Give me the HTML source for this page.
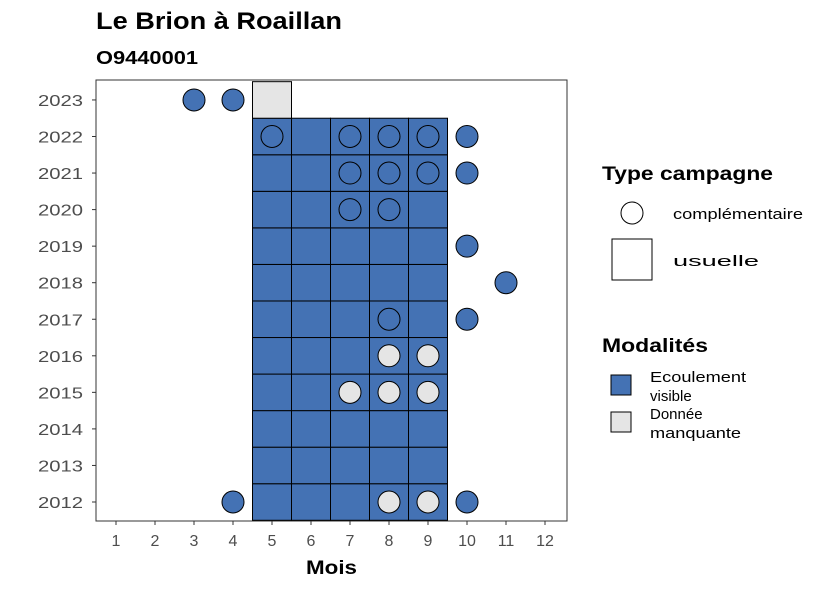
<!DOCTYPE html>
<html><head><meta charset="utf-8"><style>
body{margin:0;background:#fff}
svg{font-family:"Liberation Sans",sans-serif}
</style></head><body>
<svg id="c" width="826" height="590" xmlns="http://www.w3.org/2000/svg">
<text x="96" y="29" font-size="24" font-weight="bold" textLength="246" lengthAdjust="spacingAndGlyphs">Le Brion à Roaillan</text>
<text x="96" y="64" font-size="18" font-weight="bold" textLength="102" lengthAdjust="spacingAndGlyphs">O9440001</text>
<rect x="96" y="80" width="471" height="441" fill="#fff" stroke="#333" stroke-width="1"/>
<g id="tiles"></g>
<g id="pts"></g>
<g id="ax"></g>
<text x="306" y="574" font-size="19" font-weight="bold" textLength="51" lengthAdjust="spacingAndGlyphs">Mois</text>
<g>
<text x="602" y="180" font-size="19" font-weight="bold" textLength="171" lengthAdjust="spacingAndGlyphs">Type campagne</text>
<circle cx="632" cy="213" r="11" fill="#fff" stroke="#000"/>
<text x="673" y="219" font-size="15" textLength="130" lengthAdjust="spacingAndGlyphs">complémentaire</text>
<rect x="612" y="239" width="40" height="41" fill="#fff" stroke="#000"/>
<text x="673" y="266" font-size="15" textLength="86" lengthAdjust="spacingAndGlyphs">usuelle</text>
</g>
<g>
<text x="602" y="352" font-size="19" font-weight="bold" textLength="106" lengthAdjust="spacingAndGlyphs">Modalités</text>
<rect x="611" y="375" width="20" height="20" fill="#4472B4" stroke="#000"/>
<text x="650" y="382" font-size="15" textLength="96" lengthAdjust="spacingAndGlyphs">Ecoulement</text>
<text x="650" y="401" font-size="15">visible</text>
<rect x="611" y="412" width="20" height="20" fill="#E5E5E5" stroke="#000"/>
<text x="650" y="419" font-size="15">Donnée</text>
<text x="650" y="438" font-size="15" textLength="91" lengthAdjust="spacingAndGlyphs">manquante</text>
</g>
</svg>
<script>
const months=[1,2,3,4,5,6,7,8,9,10,11,12];
const years=[2012,2013,2014,2015,2016,2017,2018,2019,2020,2021,2022,2023];
// usual tiles: [month, year, modality] 1=visible 0=missing
const tileMonths=[5,6,7,8,9];
const tileYears=[2012,2013,2014,2015,2016,2017,2018,2019,2020,2021,2022];
const extraTiles=[[5,2023,0]];
// complementary points: [month, year, modality]
const points=[[3,2023,1],[4,2023,1],[5,2022,1],[7,2022,1],[8,2022,1],[9,2022,1],[10,2022,1],
[7,2021,1],[8,2021,1],[9,2021,1],[10,2021,1],[7,2020,1],[8,2020,1],[10,2019,1],[11,2018,1],
[8,2017,1],[10,2017,1],[8,2016,0],[9,2016,0],[7,2015,0],[8,2015,0],[9,2015,0],
[4,2012,1],[8,2012,0],[9,2012,0],[10,2012,1]];
const colors=["#E5E5E5","#4472B4"];
const NS="http://www.w3.org/2000/svg";
const X=m=>116+(m-1)*39, Y=y=>502-(y-2012)*36.55, W=39, H=36.55;
function mk(t,a,p){const e=document.createElementNS(NS,t);for(const k in a)e.setAttribute(k,a[k]);p.appendChild(e);return e;}
const tg=document.getElementById('tiles'), pg=document.getElementById('pts'), ag=document.getElementById('ax');
const allTiles=[];tileYears.forEach(y=>tileMonths.forEach(m=>allTiles.push([m,y,1])));extraTiles.forEach(t=>allTiles.push(t));
allTiles.forEach(t=>{const r=mk('rect',{x:X(t[0])-W/2,y:Y(t[1])-H/2,width:W,height:H,fill:colors[t[2]],stroke:'#000','stroke-width':1},tg);

});
points.forEach(p=>{const c=mk('circle',{cx:X(p[0]),cy:Y(p[1]),r:11,fill:colors[p[2]],stroke:'#000','stroke-width':1},pg);

});
months.forEach(m=>{mk('line',{x1:X(m),x2:X(m),y1:521,y2:525,stroke:'#333'},ag);
const t=mk('text',{x:X(m),y:546,'font-size':16,fill:'#4d4d4d','text-anchor':'middle'},ag);t.textContent=m;

});
years.forEach(y=>{mk('line',{x1:92,x2:96,y1:Y(y),y2:Y(y),stroke:'#333'},ag);
const t=mk('text',{x:38,y:Y(y)+6,'font-size':16,fill:'#4d4d4d',textLength:45,lengthAdjust:'spacingAndGlyphs'},ag);t.textContent=y;

});
</script>
</body></html>
